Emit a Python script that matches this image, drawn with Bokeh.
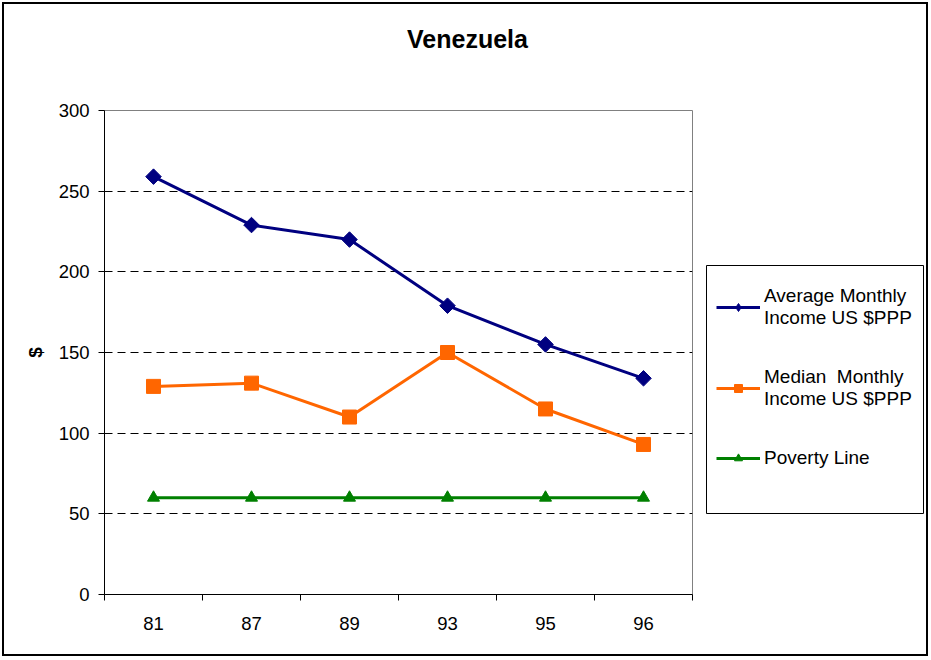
import math
from bokeh.plotting import figure
from bokeh.layouts import column, row
from bokeh.models import (Range1d, FixedTicker, Legend, LegendItem, Label, BoxAnnotation,
                          InlineStyleSheet, ColumnDataSource)
from bokeh.embed import file_html
from bokeh.resources import INLINE

# ---- data ----
years = ["81", "87", "89", "93", "95", "96"]
average_income = [259, 229, 220, 179, 155, 134]
median_income = [129, 131, 110, 150, 115, 93]
poverty_line = [60, 60, 60, 60, 60, 60]
y_ticks = [0, 50, 100, 150, 200, 250, 300]
title_text = "Venezuela"
y_label = "$"
series_labels = ["Average Monthly\nIncome US $PPP", "Median  Monthly\nIncome US $PPP", "Poverty Line"]

FONT = "Liberation Sans"
NAVY = "#000080"
ORANGE = "#FF6600"
GREEN = "#008000"

# category slots: centre of slot i is i + 0.5, slot boundaries are integers
slot_centres = [i + 0.5 for i in range(len(years))]
slot_bounds = list(range(len(years) + 1))
src = ColumnDataSource(dict(x=slot_centres, avg=average_income, med=median_income, pov=poverty_line))


def bare(fig):
    fig.grid.visible = False
    fig.outline_line_color = None
    fig.background_fill_color = "white"
    fig.border_fill_color = "white"
    return fig


# ---- title strip ----
head = bare(figure(width=930, height=99, x_range=Range1d(0, 1), y_range=Range1d(0, 1),
                   x_axis_location=None, y_axis_location=None, min_border=0,
                   toolbar_location=None, output_backend="svg"))
head.add_layout(Label(x=467, y=61, x_units="screen", y_units="screen", text=title_text,
                      text_align="center", text_baseline="middle", text_font=FONT,
                      text_font_size="25px", text_font_style="bold", text_color="black"))

# ---- main plot ----
p = figure(width=700, height=559, x_range=Range1d(0, len(years)), y_range=Range1d(0, 300),
           output_backend="svg", toolbar_location=None,
           min_border_left=104, min_border_right=8, min_border_top=11, min_border_bottom=64)
p.background_fill_color = "white"
p.border_fill_color = "white"
p.outline_line_color = "#808080"
p.outline_line_width = 1

p.xgrid.visible = False
p.ygrid.ticker = FixedTicker(ticks=y_ticks[1:-1])
p.ygrid.grid_line_color = "black"
p.ygrid.grid_line_dash = "8 5"
p.ygrid.grid_line_width = 1

ya = p.yaxis[0]
ya.ticker = FixedTicker(ticks=y_ticks)
ya.major_tick_out = 6
ya.major_tick_in = 0
ya.minor_tick_out = 0
ya.minor_tick_in = 0
ya.axis_line_color = "black"
ya.major_tick_line_color = "black"
ya.major_label_text_font = FONT
ya.major_label_text_font_size = "18.5px"
ya.major_label_text_color = "black"
ya.major_label_standoff = 9
ya.axis_label = y_label
ya.axis_label_text_font = FONT
ya.axis_label_text_font_size = "19px"
ya.axis_label_text_font_style = "bold"
ya.axis_label_text_color = "black"
ya.axis_label_standoff = 10

xa = p.xaxis[0]
xa.ticker = FixedTicker(ticks=slot_centres, minor_ticks=slot_bounds)
xa.major_label_overrides = {c: y for c, y in zip(slot_centres, years)}
xa.major_tick_out = 0
xa.major_tick_in = 0
xa.minor_tick_out = 6
xa.minor_tick_in = 0
xa.minor_tick_line_color = "black"
xa.axis_line_color = "black"
xa.major_label_standoff = 16
xa.major_label_text_font = FONT
xa.major_label_text_font_size = "18.5px"
xa.major_label_text_color = "black"


def draw_series(fig, for_legend=False):
    r = []
    if for_legend:
        avg_marker = dict(marker="diamond", size=17)
    else:
        avg_marker = dict(marker="square", angle=math.pi / 4, size=11)
    r.append((fig.line("x", "avg", source=src, line_color=NAVY, line_width=3),
              fig.scatter("x", "avg", source=src, fill_color=NAVY, line_color=NAVY, **avg_marker)))
    r.append((fig.line("x", "med", source=src, line_color=ORANGE, line_width=3),
              fig.scatter("x", "med", source=src, marker="square", size=11 if for_legend else 14,
                          fill_color=ORANGE, line_color=ORANGE)))
    r.append((fig.line("x", "pov", source=src, line_color=GREEN, line_width=3),
              fig.scatter("x", "pov", source=src, marker="triangle", size=11 if for_legend else 12,
                          fill_color=GREEN, line_color=GREEN)))
    return r


draw_series(p)

# ---- legend panel (its own series renderers sit outside its visible range) ----
side = bare(figure(width=230, height=559, x_range=Range1d(0, len(years)), y_range=Range1d(1000, 1100),
                   x_axis_location=None, y_axis_location=None, min_border=0,
                   toolbar_location=None, output_backend="svg"))
side_renderers = draw_series(side, for_legend=True)
side.add_layout(BoxAnnotation(left=6, right=223, top=329, bottom=81,
                              left_units="screen", right_units="screen",
                              top_units="screen", bottom_units="screen",
                              fill_alpha=0, line_color="black", line_alpha=1.0, line_width=1))
legend = Legend(items=[LegendItem(label=lab, renderers=list(rs))
                       for lab, rs in zip(series_labels, side_renderers)],
                location=(6, 115), padding=10, margin=0, spacing=37,
                glyph_width=44, glyph_height=20, label_standoff=4,
                label_text_font=FONT, label_text_font_size="19px",
                label_text_color="black", border_line_alpha=0, background_fill_alpha=0)
side.add_layout(legend)

layout = column(head, row(p, side), stylesheets=[InlineStyleSheet(css=(
    ":host { position: relative; }"
    ":host::after { content: ''; position: absolute; left: 2px; top: 2px; right: 2px; bottom: 2px;"
    " border: 2px solid #000; pointer-events: none; z-index: 100; }"))])

open("out.html", "w").write(file_html(layout, INLINE))
